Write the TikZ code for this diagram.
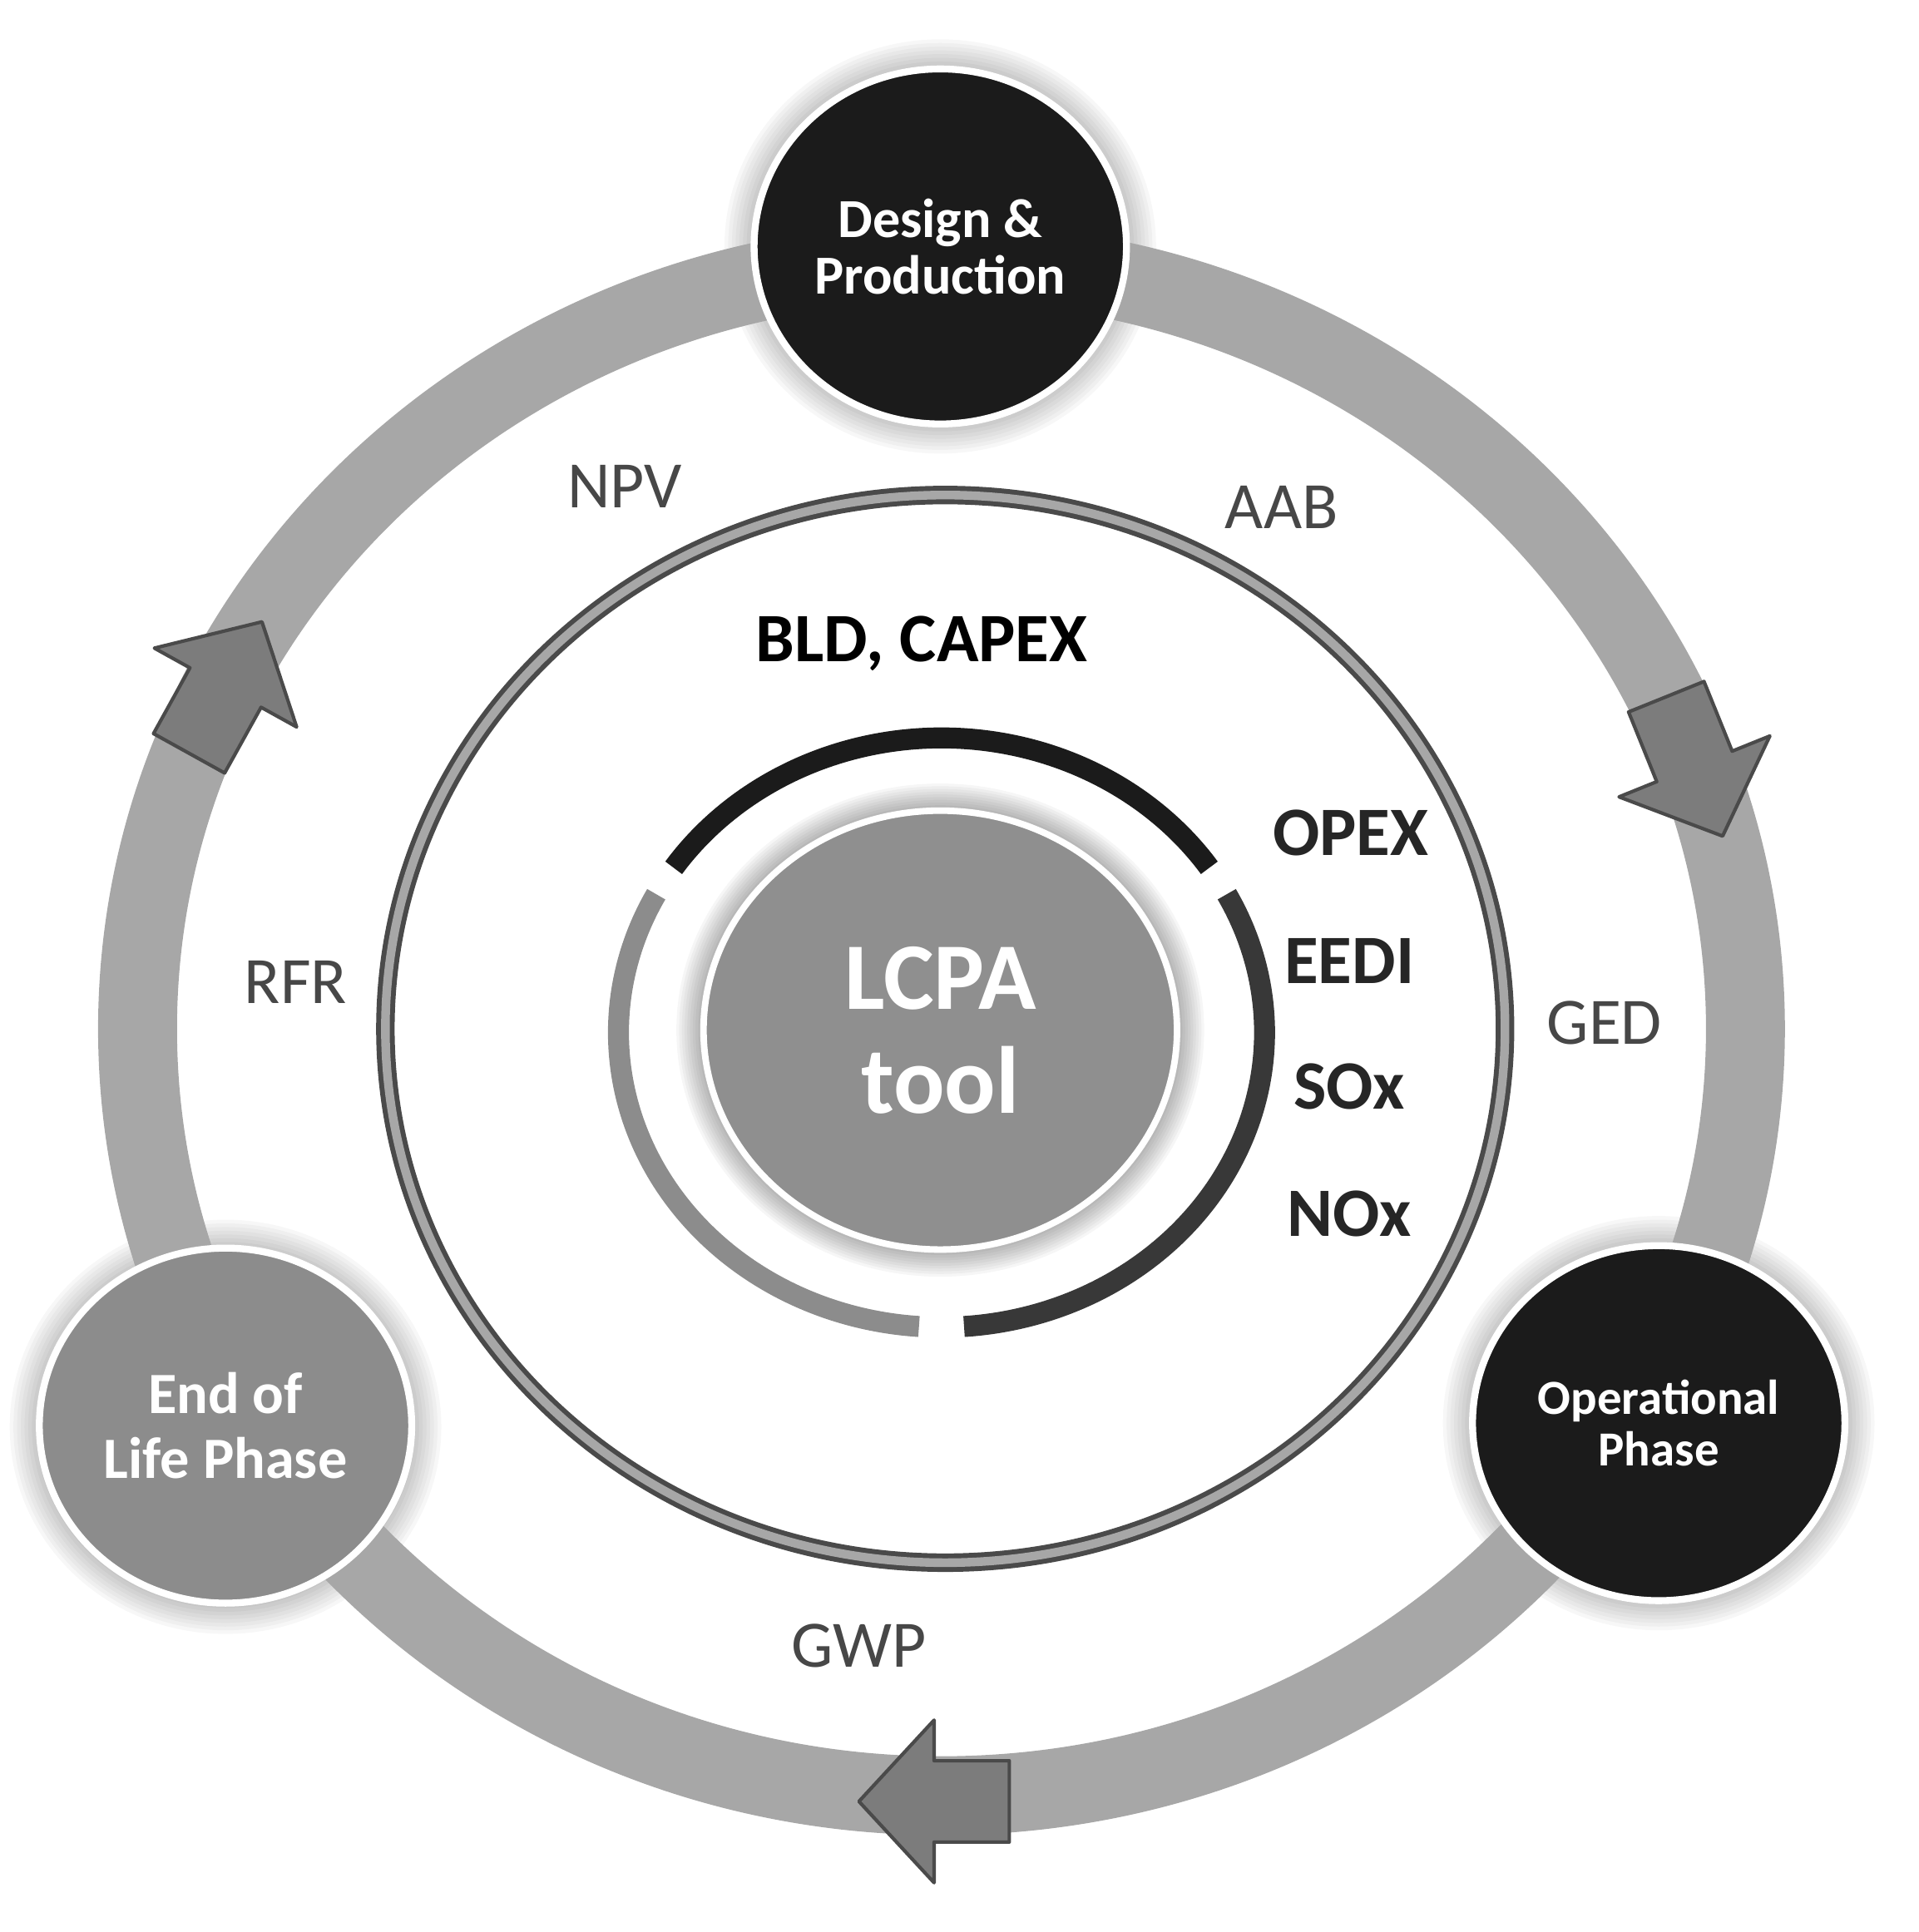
\documentclass[tikz,border=0pt]{standalone}
\usepackage{fontspec}
\setmainfont{Carlito}
\usepackage{xcolor}
\usepackage{tikz}
\usetikzlibrary{positioning, shapes.geometric}

\definecolor{ringgray}{HTML}{A7A7A7}
\definecolor{arrgray}{HTML}{7C7C7C}
\definecolor{arredge}{HTML}{4A4A4A}
\definecolor{phasedark}{HTML}{1B1B1B}
\definecolor{phasemid}{HTML}{8C8C8C}
\definecolor{lcpagray}{HTML}{8F8F8F}
\definecolor{lblgray}{HTML}{474747}
\definecolor{inkgray}{HTML}{262626}

\begin{document}
\begin{tikzpicture}[x=0.01cm, y=-0.01cm,
  phase/.style={ellipse, draw=white, line width=1.6pt, text=white, font=\bfseries,
                align=center, inner sep=0pt, minimum width=3.02cm, minimum height=2.88cm},
  lbl/.style={text=lblgray, font=\fontsize{15.3}{18}\selectfont},
  inlbl/.style={text=inkgray, font=\fontsize{16}{19}\selectfont\bfseries},
  blockarr/.style={fill=arrgray, draw=arredge, line width=0.8pt, line join=round},
  seg/.style={line width=0.17cm}
]
  \useasboundingbox (0,0) rectangle (1557,1568);

  % soft halos behind the phase circles
  \foreach \p in {{763,200}, {1346,1155}, {183,1158}}
    \foreach \i in {1,...,8}
      \fill[black, opacity=0.03] (\p) ellipse [x radius={(1.51+0.03*\i)*1cm}, y radius={(1.44+0.03*\i)*1cm}];

  % life cycle ring
  \draw[ringgray, line width=0.64cm] (764,835) ellipse [x radius=6.52cm, y radius=6.22cm];

  % arrows on the ring
  \foreach \x/\y/\a in {183/558/61, 1375/622/-68, 758/1462/180}
    \path[blockarr, shift={(\x,\y)}, rotate=\a]
      (-61,-33) -- (0,-33) -- (0,-66) -- (61,0) -- (0,66) -- (0,33) -- (-61,33) -- cycle;

  % double ring
  \draw[arredge, line width=0.15cm] (767,835) ellipse [x radius=4.54cm, y radius=4.33cm];
  \draw[ringgray, line width=0.07cm] (767,835) ellipse [x radius=4.54cm, y radius=4.33cm];

  % segments round the tool
  \draw[seg, color=phasedark] (764,838) ++(34:2.62cm and 2.39cm)
    arc [start angle=34, end angle=146, x radius=2.62cm, y radius=2.39cm];
  \draw[seg, color=black!78] (764,838) ++(-86:2.62cm and 2.39cm)
    arc [start angle=-86, end angle=28, x radius=2.62cm, y radius=2.39cm];
  \draw[seg, color=phasemid] (764,838) ++(152:2.62cm and 2.39cm)
    arc [start angle=152, end angle=266, x radius=2.62cm, y radius=2.39cm];

  % LCPA tool
  \foreach \i in {1,...,10}
    \fill[black, opacity=0.035] (763,836) ellipse [x radius={(1.92+0.022*\i)*1cm}, y radius={(1.78+0.022*\i)*1cm}];
  \node[ellipse, fill=lcpagray, draw=white, line width=1.5pt, inner sep=0pt,
        minimum width=3.84cm, minimum height=3.56cm,
        text=white, font=\fontsize{22}{24}\selectfont\bfseries, align=center]
        (lcpa) at (763,836) {LCPA\\tool};

  % phases
  \node[phase, fill=phasedark, font=\fontsize{12.7}{13}\selectfont\bfseries]
        (design) at (763,200) {Design \&\\Production};
  \node[phase, fill=phasedark, font=\fontsize{11.3}{12}\selectfont\bfseries]
        (oper) at (1346,1155) {Operational\\Phase};
  \node[phase, fill=phasemid, font=\fontsize{13.5}{14.8}\selectfont\bfseries]
        (eol) at (183,1157) {End of\\Life Phase};

  % indicators
  \node[lbl] (npv) at (507,395) {NPV};
  \node[lbl] (aab) at (1040,412) {AAB};
  \node[lbl] (rfr) at (240,797) {RFR};
  \node[lbl] (ged) at (1302,830) {GED};
  \node[lbl] (gwp) at (697,1336) {GWP};
  \node[inlbl, text=black] (bld) at (748,522) {BLD, CAPEX};
  \node[inlbl] (opex) at (1096,676) {OPEX};
  \node[inlbl] (eedi) at (1095,780) {EEDI};
  \node[inlbl] (sox) at (1095,882) {SOx};
  \node[inlbl] (nox) at (1095,985) {NOx};
\end{tikzpicture}
\end{document}
